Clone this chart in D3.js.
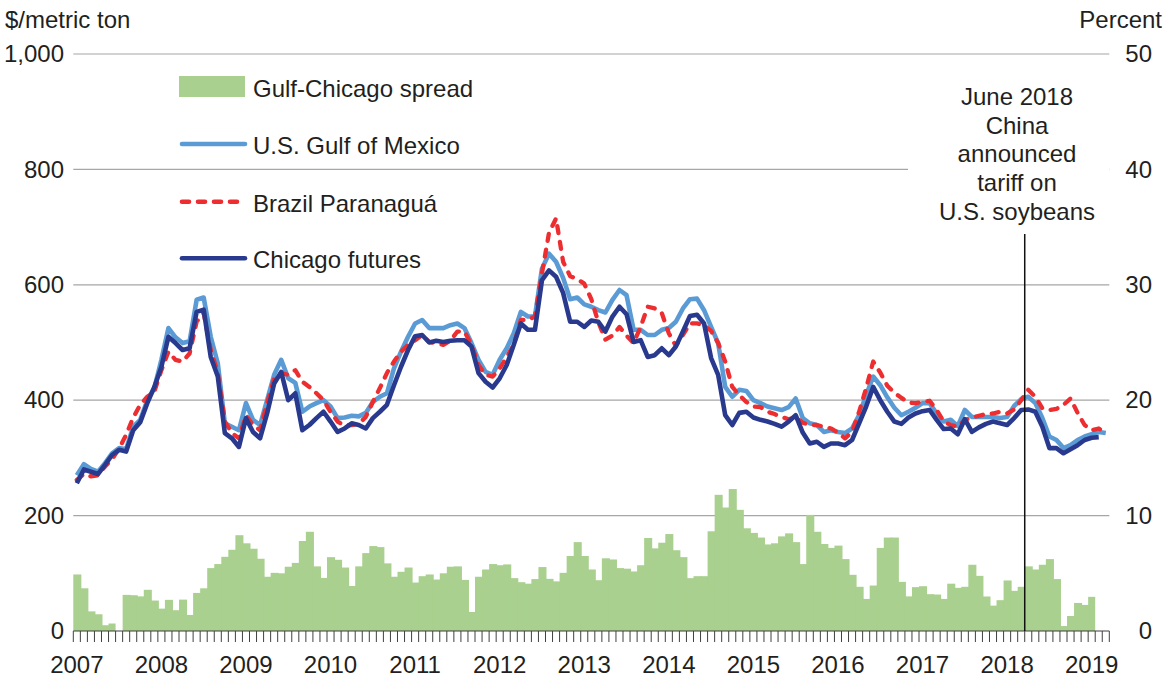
<!DOCTYPE html>
<html lang="en">
<head>
  <meta charset="UTF-8">
  <title>Soybean export prices</title>
  <script src="https://cdnjs.cloudflare.com/ajax/libs/d3/7.8.5/d3.min.js"></script>
  <style>
    body { margin: 0; background: #fff; }
    svg text { font-family: "Liberation Sans", Arial, Helvetica, sans-serif; fill: #231f20; }
  </style>
</head>

<body>
  <script>
    // Data (monthly, Mar 2007 - May 2019)
    var yearLabels = ["2007", "2008", "2009", "2010", "2011", "2012", "2013", "2014", "2015", "2016", "2017", "2018", "2019"];
    var months = d3.timeMonth.range(new Date(2007, 2, 1), new Date(2019, 5, 1)).map(d3.timeFormat("%Y-%m"));
    var priceTicks = [0, 200, 400, 600, 800, 1000];
    var percentTicks = [0, 10, 20, 30, 40, 50];

    // $/metric ton
    var gulf = [270, 289, 281, 276, 291, 308, 317, 315, 354, 366, 400, 421, 470, 525, 509, 499, 502, 574, 578, 510,
      464, 360, 354, 348, 395, 366, 357, 400, 444, 470, 438, 430, 380, 389, 395, 400, 389, 369, 370, 373,
      372, 378, 397, 406, 412, 455, 484, 510, 533, 539, 525, 525, 525, 530, 533, 525, 499, 470, 449, 444,
      470, 490, 516, 553, 545, 545, 628, 654, 640, 612, 575, 578, 566, 562, 556, 552, 574, 591, 582, 522,
      522, 513, 513, 522, 525, 536, 559, 575, 576, 556, 527, 499, 423, 406, 418, 416, 400, 395, 389, 386,
      383, 388, 403, 369, 360, 357, 345, 348, 345, 343, 351, 374, 409, 441, 426, 405, 387, 374, 380, 387,
      395, 395, 377, 363, 366, 355, 383, 371, 371, 371, 371, 369, 371, 390, 402, 406, 395, 369, 337, 331,
      317, 322, 331, 337, 341, 345, 343];
    var brazil = [262, 272, 268, 270, 285, 298, 316, 340, 370, 392, 406, 415, 452, 484, 470, 467, 481, 536, 551, 487,
      447, 363, 343, 334, 374, 357, 348, 395, 438, 447, 444, 452, 432, 423, 412, 400, 380, 363, 356, 357,
      359, 371, 397, 421, 447, 467, 484, 496, 504, 513, 501, 499, 496, 503, 519, 519, 496, 461, 444, 441,
      455, 475, 496, 539, 539, 545, 620, 690, 715, 640, 615, 610, 602, 575, 535, 505, 512, 527, 512, 499,
      527, 562, 559, 551, 516, 494, 513, 533, 533, 530, 520, 499, 467, 423, 409, 397, 389, 388, 380, 376,
      371, 367, 370, 361, 357, 357, 354, 351, 344, 334, 345, 380, 421, 467, 448, 425, 413, 404, 396, 395,
      397, 399, 383, 363, 357, 354, 366, 370, 373, 376, 377, 380, 377, 384, 400, 418, 406, 386, 383, 385,
      392, 403, 378, 357, 348, 351, 343];
    var chicago = [256, 280, 276, 272, 288, 305, 314, 311, 348, 362, 395, 423, 458, 510, 499, 487, 490, 553, 557, 475,
      441, 343, 334, 319, 369, 345, 334, 377, 429, 449, 400, 412, 348, 357, 369, 380, 363, 345, 351, 360,
      357, 351, 369, 380, 392, 426, 458, 487, 511, 513, 500, 503, 501, 503, 504, 504, 493, 447, 432, 422,
      438, 461, 496, 533, 522, 522, 608, 625, 614, 586, 536, 536, 527, 538, 536, 519, 545, 562, 549, 501,
      504, 475, 478, 490, 478, 493, 519, 546, 548, 533, 473, 444, 374, 357, 378, 380, 370, 366, 363, 359,
      354, 363, 374, 344, 325, 328, 319, 325, 325, 322, 331, 360, 389, 423, 400, 380, 363, 359, 370, 377,
      381, 383, 366, 350, 351, 341, 367, 345, 353, 359, 363, 360, 357, 369, 383, 384, 380, 354, 317, 317,
      308, 315, 322, 331, 335, 336];
    // Percent
    var spread = [4.9, 3.7, 1.7, 1.45, 0.5, 0.65, null, 3.13, 3.1, 3.0, 3.57, 2.64, 1.94, 2.7, 1.8, 2.72, 1.39, 3.3, 3.7, 5.45,
      5.8, 6.43, 7.04, 8.3, 7.6, 7.13, 6.26, 4.7, 5.04, 5.0, 5.57, 5.9, 7.8, 8.6, 5.6, 4.6, 6.4, 6.17, 5.5, 3.9,
      5.6, 6.75, 7.36, 7.27, 5.86, 4.7, 5.13, 5.5, 4.2, 4.75, 4.9, 4.46, 5.0, 5.57, 5.6, 4.43, 1.65, 4.7, 5.33, 5.8,
      5.7, 5.77, 4.58, 4.23, 4.1, 4.5, 5.54, 4.52, 4.3, 5.04, 6.5, 7.7, 6.5, 5.33, 4.4, 6.3, 6.2, 5.45, 5.4, 5.16,
      5.7, 8.06, 7.16, 7.65, 8.4, 7.0, 6.4, 4.58, 4.75, 4.75, 8.64, 11.8, 10.7, 12.3, 10.5, 8.9, 8.5, 8.1, 7.5, 7.6,
      8.2, 8.46, 7.7, 5.8, 10.06, 8.6, 7.54, 7.2, 7.4, 6.23, 4.87, 3.83, 2.78, 3.94, 7.2, 8.1, 8.1, 4.26, 3.0, 3.8,
      3.88, 3.19, 3.16, 2.78, 4.1, 3.74, 3.83, 5.74, 4.78, 2.99, 2.2, 2.67, 4.38, 3.48, 3.83, 5.6, 5.33, 5.74, 6.23, 4.5,
      0.43, 1.3, 2.43, 2.26, 2.96];

    var eventMonth = "2018-06";
    var eventText = ["June 2018", "China", "announced", "tariff on", "U.S. soybeans"];

    var colGulf = "#5b9bd5", colBrazil = "#ee2d30", colChicago = "#293a8e", colSpread = "#a9d08e";
    var fontSize = "24px";
    var redDash = "7,9";

    // Create the SVG canvas
    var svg = d3.select("body").append("svg").attr("width", 1172).attr("height", 677);

    /* SCALES */
    let scaleX = d3.scaleBand().domain(months).range([73.3, 1109.3]);
    let scaleY = d3.scaleLinear().domain([0, 1000]).range([631, 54]);
    let scaleP = d3.scaleLinear().domain([0, 50]).range([631, 54]);
    let bw = scaleX.bandwidth();
    let x0 = scaleX.range()[0], x1 = scaleX.range()[1];

    /* GRIDLINES */
    svg.append("g").selectAll("line")
      .data(priceTicks.slice(1))
      .enter()
      .append("line")
      .attr("x1", x0).attr("x2", x1)
      .attr("y1", d => scaleY(d)).attr("y2", d => scaleY(d))
      .attr("stroke", "#a6a6a6").attr("stroke-width", 1.2);

    /* BARS */
    var barData = spread.map((v, i) => ({ month: months[i], value: v })).filter(d => d.value != null);
    svg.append("g").selectAll("rect")
      .data(barData)
      .enter()
      .append("rect")
      .attr("x", d => scaleX(d.month))
      .attr("width", (d, i) => (barData[i + 1] && barData[i + 1].month == months[months.indexOf(d.month) + 1]) ? bw + 1 : bw)
      .attr("y", d => scaleP(d.value))
      .attr("height", d => scaleP(0) - scaleP(d.value))
      .attr("fill", colSpread);

    /* LINES */
    let line = d3.line()
      .defined(d => d.value != null)
      .x(d => scaleX(d.month) + bw / 2)
      .y(d => scaleY(d.value));

    function series(arr) {
      return arr.map((v, i) => ({ month: months[i], value: v }));
    }

    svg.append("path").attr("d", line(series(gulf)))
      .attr("fill", "none").attr("stroke", colGulf).attr("stroke-width", 4.6).attr("stroke-linejoin", "round");
    svg.append("path").attr("d", line(series(brazil)))
      .attr("fill", "none").attr("stroke", colBrazil).attr("stroke-width", 4.3)
      .attr("stroke-dasharray", redDash).attr("stroke-linecap", "round").attr("stroke-linejoin", "round");
    svg.append("path").attr("d", line(series(chicago)))
      .attr("fill", "none").attr("stroke", colChicago).attr("stroke-width", 4.6).attr("stroke-linejoin", "round");

    /* X AXIS */
    var xAxis = svg.append("g");
    xAxis.append("line")
      .attr("x1", x0).attr("x2", x1).attr("y1", scaleY(0)).attr("y2", scaleY(0))
      .attr("stroke", "#404040").attr("stroke-width", 1.2);
    xAxis.selectAll(".mtick")
      .data(months.concat(["end"]))
      .enter()
      .append("line")
      .attr("x1", d => d == "end" ? x1 : scaleX(d))
      .attr("x2", d => d == "end" ? x1 : scaleX(d))
      .attr("y1", scaleY(0))
      .attr("y2", scaleY(0) + 11)
      .attr("stroke", "#404040").attr("stroke-width", 1);
    xAxis.selectAll(".ylab")
      .data(months.filter(m => m.slice(5) == "03"))
      .enter()
      .append("text")
      .attr("x", d => scaleX(d) + bw / 2)
      .attr("y", 673)
      .attr("text-anchor", "middle")
      .style("font-size", fontSize)
      .text((d, i) => yearLabels[i]);

    /* Y AXES */
    svg.append("g").call(d3.axisLeft(scaleY).tickValues(priceTicks).tickFormat(d3.format(",")).tickSize(0).tickPadding(0))
      .attr("transform", "translate(64,0)")
      .call(g => g.select(".domain").remove())
      .selectAll("text").style("font-size", fontSize).attr("font-family", null).attr("fill", "#231f20");

    svg.append("g").call(d3.axisLeft(scaleP).tickValues(percentTicks).tickSize(0).tickPadding(0))
      .attr("transform", "translate(1152,0)")
      .call(g => g.select(".domain").remove())
      .selectAll("text").style("font-size", fontSize).attr("font-family", null).attr("fill", "#231f20");

    svg.append("text").attr("x", 5).attr("y", 28).style("font-size", fontSize).text("$/metric ton");
    svg.append("text").attr("x", 1162).attr("y", 28).attr("text-anchor", "end").style("font-size", fontSize).text("Percent");

    /* EVENT LINE AND NOTE */
    svg.append("rect").attr("x", 908).attr("y", 78).attr("width", x1 - 908).attr("height", 150).attr("fill", "#fff");
    svg.append("line")
      .attr("x1", scaleX(eventMonth)).attr("x2", scaleX(eventMonth))
      .attr("y1", 234).attr("y2", scaleY(0))
      .attr("stroke", "#111").attr("stroke-width", 1.5);
    svg.append("g").selectAll("text")
      .data(eventText)
      .enter()
      .append("text")
      .attr("x", 1017)
      .attr("y", (d, i) => 105 + i * 28.7)
      .attr("text-anchor", "middle")
      .style("font-size", fontSize)
      .text(d => d);

    /* LEGEND */
    var legend = svg.append("g").attr("transform", "translate(179,0)");
    legend.append("rect").attr("x", 0).attr("y", 76).attr("width", 66).attr("height", 21).attr("fill", colSpread);
    var legLines = [
      { name: "U.S. Gulf of Mexico", color: colGulf, dash: null, y: 144 },
      { name: "Brazil Paranaguá", color: colBrazil, dash: redDash, y: 201.7 },
      { name: "Chicago futures", color: colChicago, dash: null, y: 258.3 }
    ];
    legend.selectAll(".legline")
      .data(legLines)
      .enter()
      .append("line")
      .attr("x1", 3).attr("x2", d => d.dash ? 60 : 66)
      .attr("y1", d => d.y).attr("y2", d => d.y)
      .attr("stroke", d => d.color).attr("stroke-width", 4.6)
      .attr("stroke-linecap", "round")
      .attr("stroke-dasharray", d => d.dash);
    legend.append("text").attr("x", 74).attr("y", 97).style("font-size", fontSize).text("Gulf-Chicago spread");
    legend.selectAll(".legtext")
      .data(legLines)
      .enter()
      .append("text")
      .attr("x", 74)
      .attr("y", d => d.y + 10)
      .style("font-size", fontSize)
      .text(d => d.name);
  </script>
</body>
</html>
